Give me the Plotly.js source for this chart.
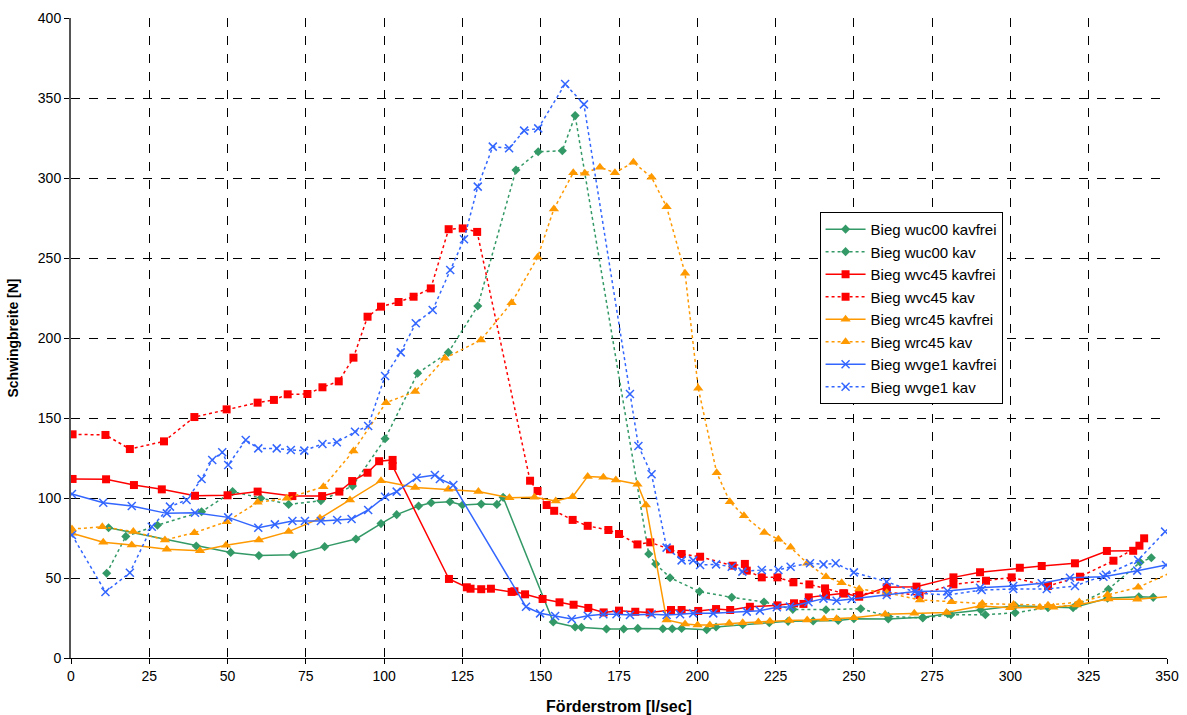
<!DOCTYPE html>
<html>
<head>
<meta charset="utf-8">
<script src="https://cdn.plot.ly/plotly-3.0.1.min.js"></script>
<style>html,body{margin:0;padding:0;background:#fff;}#chart{width:1187px;height:715px;}</style>
</head>
<body>
<div id="chart"></div>
<script>
// Bieg wuc00 kavfrei
const wuc00FreiX = [12, 40, 51, 60, 71, 81, 91, 99, 104, 111, 115, 121, 125, 131, 136, 138, 154, 161, 163, 171, 176.5, 181, 189, 192, 195, 203, 206, 214.5, 223, 229, 237, 245, 250, 261, 272, 280, 290.5, 301.5, 312, 320, 331, 341, 345.6];
const wuc00FreiY = [81.4, 70, 66, 64, 64.6, 69.6, 74.4, 84, 89.6, 95, 97, 97.7, 95.6, 96.2, 96, 100.4, 22.5, 19.4, 19.2, 18.1, 18.1, 18.5, 18.3, 18.3, 18.5, 17.7, 19.4, 20.8, 22, 22.9, 23.1, 23.5, 24.6, 24.4, 25.4, 27.7, 30, 32.7, 31.9, 31.4, 37.3, 38.3, 37.9];
// Bieg wuc00 kav
const wuc00KavX = [11.4, 17.5, 27.6, 41.7, 51.6, 60.6, 69.5, 79.8, 89.9, 100.3, 110.7, 120.5, 129.9, 142.1, 149.2, 156.9, 161, 184.5, 186.7, 191.3, 200.7, 211, 221.3, 230.5, 241.1, 252.2, 261, 272, 281, 292, 301.5, 312, 321, 331.3, 341.4, 345];
const wuc00KavY = [53, 76, 83, 91.4, 104, 99.8, 96, 98.3, 107.5, 137, 178, 191, 220, 305, 316.4, 317, 339, 65, 58.8, 50.2, 41.5, 37.9, 35, 30.4, 30.2, 30.8, 26, 25, 27, 27, 28.3, 31.5, 33, 43, 59.8, 62.7];
// Bieg wvc45 kavfrei
const wvc45FreiX = [0.5, 11.2, 20.1, 29, 39.6, 50, 59.6, 70.7, 80.2, 85.7, 89.8, 94.7, 98.4, 102.7, 102.7, 120.7, 126.4, 127.6, 131, 134.1, 140.7, 141.6, 145, 150.6, 156, 160.5, 165.2, 170.1, 175, 180.2, 184.8, 191.6, 195, 200.3, 206, 210.5, 216.8, 225.6, 230.9, 233.9, 235.6, 241.1, 246.9, 251.7, 260.5, 270, 281.8, 290.3, 303, 310, 320.6, 330.8, 339.2];
const wvc45FreiY = [111.9, 111.7, 108.1, 105.4, 101.4, 101.7, 104, 101.2, 101.2, 104, 110.6, 115.8, 123, 123.8, 120, 49.4, 44.2, 43.3, 43, 43.3, 41.3, 41.7, 39.8, 36.9, 34.8, 33.3, 31.3, 28.5, 29.6, 28.9, 28.5, 30, 30, 29.4, 30.6, 30, 32, 32.9, 34.2, 33.8, 37.9, 39.2, 40.4, 38.3, 44.2, 44.6, 50.4, 53.6, 56.4, 57.5, 59.2, 66.9, 67];
// Bieg wvc45 kav
const wvc45KavX = [0.5, 11, 18.8, 29.7, 39.4, 49.7, 59.6, 64.8, 69.2, 75.5, 80.3, 85.5, 90.2, 94.7, 99, 104.6, 109.4, 114.9, 120.6, 125.1, 129.7, 146.6, 149, 151.9, 154.3, 160.2, 165, 171.6, 175, 180.9, 185, 191.3, 195, 200.9, 211.3, 215.2, 215.8, 220.6, 225.6, 230.7, 235.8, 240.8, 246.6, 251.7, 260.5, 271, 281.8, 292.2, 300.4, 312, 322.2, 332.9, 341.2, 342.7];
const wvc45KavY = [139.8, 139.4, 130.6, 135.4, 150.6, 155.4, 159.6, 161.3, 164.8, 165, 169.2, 172.9, 187.7, 213.3, 219.6, 222.5, 225.8, 231, 268, 268.5, 266.3, 110.8, 104.4, 95.6, 92, 86.3, 82.6, 80, 77.5, 71, 72.3, 67.9, 65, 63.3, 57.7, 58.8, 54.6, 50.4, 50.4, 47.3, 46, 43.5, 40.4, 40, 41, 39.4, 46, 48.3, 50.4, 45, 50.8, 60.8, 70.2, 74.8];
// Bieg wrc45 kavfrei
const wrc45FreiX = [0.3, 10.3, 19.4, 30.6, 41.2, 49.5, 60, 69.5, 79.5, 89.1, 99, 109.9, 120.5, 130.1, 140, 148, 154.8, 160.2, 165, 170, 174, 180.9, 183.6, 190.2, 196.1, 200.1, 204, 210.2, 214.5, 219.5, 223.2, 229.4, 235.1, 240.5, 244.5, 250, 260, 269.3, 279.6, 290.3, 299.9, 309.4, 313.7, 321.2, 331.3, 340.5, 352];
const wrc45FreiY = [78, 72.3, 70.6, 67.9, 67, 70.4, 73.8, 79, 87.3, 98.8, 110.8, 106.5, 105.4, 104, 100.2, 100.4, 98.1, 100.8, 113.5, 112.9, 111.3, 108.6, 95.6, 23.8, 21.3, 20.6, 20.6, 21.7, 22, 22.5, 22.9, 23.5, 23.7, 24.4, 24.6, 25.2, 27.3, 27.9, 28.5, 32.5, 31.4, 31.7, 31.7, 33.1, 36.9, 36.7, 38.6];
// Bieg wrc45 kav
const wrc45KavX = [0.3, 10, 19.9, 30, 39.4, 49.7, 59.6, 68.9, 80.6, 90.2, 100.6, 109.9, 119.4, 130.9, 140.7, 149, 154.2, 160.4, 164.1, 168.9, 173.7, 179.6, 185.4, 190.2, 196.1, 200.3, 206.2, 210.4, 214.9, 221.4, 225.9, 229.8, 235.1, 241.1, 246.1, 251.7, 260.5, 271.1, 281.2, 291, 301, 312, 322, 331, 340.8, 352];
const wrc45KavY = [80.6, 82, 79, 73.8, 78.3, 85.2, 97.3, 99.8, 107, 129.4, 159.6, 166.5, 187.3, 198.8, 222, 250.4, 280.6, 303.3, 303, 306.7, 303.3, 309.8, 300.4, 282, 240.4, 168.6, 115.8, 97.7, 88.9, 78.5, 74.2, 69.2, 59.2, 50.8, 47, 43.1, 40.8, 36.3, 35.2, 34, 33.5, 33, 35, 39.5, 44.2, 54];
// Bieg wvge1 kavfrei
const wvge1FreiX = [0.3, 10.3, 19.4, 30.6, 39.6, 50.2, 59.8, 65.1, 70.7, 74.7, 79.8, 85, 89.6, 94.9, 100.3, 104, 110.4, 116.2, 117.8, 122.1, 145.3, 149.8, 154.6, 159.9, 165, 170, 174.2, 178.5, 185.4, 190.2, 194.5, 198.7, 205.1, 215.8, 220, 225.4, 229.6, 235.5, 240.3, 244.5, 249.3, 260.5, 269.5, 279.9, 290.3, 300.9, 310, 319, 329.7, 340.5, 349.7];
const wvge1FreiY = [102.5, 97, 95, 90.4, 90.8, 87.9, 81.4, 83.5, 85.6, 85.6, 85.6, 86.3, 86.9, 92.5, 100.8, 104, 112.7, 114.4, 111.9, 108.1, 32, 27.9, 26.3, 24.4, 26.4, 27.3, 27.3, 26.9, 27.3, 26.9, 27.3, 27.9, 27.9, 29, 29.6, 31.7, 32.1, 34.8, 37.1, 35.8, 36.9, 39.4, 41.5, 41.9, 43.9, 45, 46.7, 50.2, 50.8, 54.6, 58.1];
// Bieg wvge1 kav
const wvge1KavX = [0.3, 11, 18.8, 25.8, 31.6, 36.9, 41.7, 45.1, 48.3, 50.2, 55.8, 59.8, 65.7, 70.2, 74.5, 80.3, 84.9, 90.7, 94.9, 100.3, 105.3, 110.1, 115.5, 121.1, 125.5, 129.9, 134.7, 139.9, 144.7, 149.2, 157.8, 163.8, 178.5, 181.2, 185.4, 190.2, 195, 198.7, 200.9, 206, 211, 214.4, 220.6, 225.9, 229.8, 236, 240.3, 244.2, 250, 260.5, 270.6, 280.2, 290.8, 300.9, 311.6, 320.6, 330.5, 340.8, 349.4];
const wvge1KavY = [76.9, 41.3, 53.3, 82, 94.6, 98.8, 111.9, 123.8, 128.6, 120.6, 136.3, 131, 131, 130, 129.6, 133.8, 134.8, 141.4, 145, 176.3, 191, 209.2, 217.5, 242.5, 261.7, 294.6, 319.6, 318.6, 329.6, 331, 358.8, 346, 165, 132.5, 114.8, 69, 61, 61, 58.1, 58.5, 57, 54, 55, 55, 57, 59.2, 58.5, 59.2, 53.5, 47.7, 40.4, 39.4, 42.5, 43.1, 43.1, 45, 52, 61.3, 79];

const seriesNames = ['Bieg wuc00 kavfrei', 'Bieg wuc00 kav', 'Bieg wvc45 kavfrei', 'Bieg wvc45 kav', 'Bieg wrc45 kavfrei', 'Bieg wrc45 kav', 'Bieg wvge1 kavfrei', 'Bieg wvge1 kav'];
const xTicks = [0, 25, 50, 75, 100, 125, 150, 175, 200, 225, 250, 275, 300, 325, 350];
const yTicks = [0, 50, 100, 150, 200, 250, 300, 350, 400];

const GREEN = '#339966', RED = '#ff0000', ORANGE = '#ff9900', BLUE = '#3366ff';

function tr(name, x, y, color, dash, sym, size) {
  const isX = sym.startsWith('x');
  return {
    type: 'scatter', mode: 'lines+markers', name: name, x: x, y: y,
    line: {color: color, width: 1.5, dash: dash},
    marker: isX ? {symbol: sym, size: size, color: color, line: {color: color, width: 1.5}}
                : {symbol: sym, size: size, color: color, line: {width: 0}}
  };
}

const data = [
  tr(seriesNames[0], wuc00FreiX, wuc00FreiY, GREEN, 'solid', 'diamond', 7),
  tr(seriesNames[1], wuc00KavX, wuc00KavY, GREEN, 'dot', 'diamond', 7),
  tr(seriesNames[2], wvc45FreiX, wvc45FreiY, RED, 'solid', 'square', 8),
  tr(seriesNames[3], wvc45KavX, wvc45KavY, RED, 'dot', 'square', 8),
  tr(seriesNames[4], wrc45FreiX, wrc45FreiY, ORANGE, 'solid', 'triangle-up', 9),
  tr(seriesNames[5], wrc45KavX, wrc45KavY, ORANGE, 'dot', 'triangle-up', 9),
  tr(seriesNames[6], wvge1FreiX, wvge1FreiY, BLUE, 'solid', 'x-thin-open', 8),
  tr(seriesNames[7], wvge1KavX, wvge1KavY, BLUE, 'dot', 'x-thin-open', 8)
];

const layout = {
  width: 1187, height: 715,
  margin: {l: 71, r: 20, t: 18, b: 57},
  paper_bgcolor: '#fff', plot_bgcolor: '#fff',
  font: {family: 'Liberation Sans, Arial, sans-serif', size: 14, color: '#000'},
  showlegend: true,
  legend: {
    x: 0.683, y: 0.697, xanchor: 'left', yanchor: 'top',
    bgcolor: '#fff', bordercolor: '#000', borderwidth: 1,
    font: {family: 'Liberation Sans, Arial, sans-serif', size: 15, color: '#000'},
    tracegroupgap: 0, itemwidth: 40
  },
  xaxis: {
    range: [0, 350], tickvals: xTicks, ticktext: xTicks.map(String),
    ticks: 'outside', ticklen: 5, tickcolor: '#000',
    showline: true, linecolor: '#000', linewidth: 1,
    showgrid: true, gridcolor: '#000', griddash: 'dash', gridwidth: 1,
    zeroline: false,
    title: {text: '<b>Förderstrom [l/sec]</b>', font: {size: 16}, standoff: 20},
    tickfont: {size: 14}
  },
  yaxis: {
    range: [0, 400], tickvals: yTicks, ticktext: yTicks.map(String),
    ticks: 'outside', ticklen: 5, tickcolor: '#000',
    showline: true, linecolor: '#555', linewidth: 2,
    showgrid: true, gridcolor: '#000', griddash: 'dash', gridwidth: 1,
    zeroline: false,
    title: {text: '<b>Schwingbreite [N]</b>', font: {size: 14}, standoff: 16},
    tickfont: {size: 14}
  }
};

Plotly.newPlot('chart', data, layout, {displayModeBar: false, staticPlot: true});
</script>
</body>
</html>
